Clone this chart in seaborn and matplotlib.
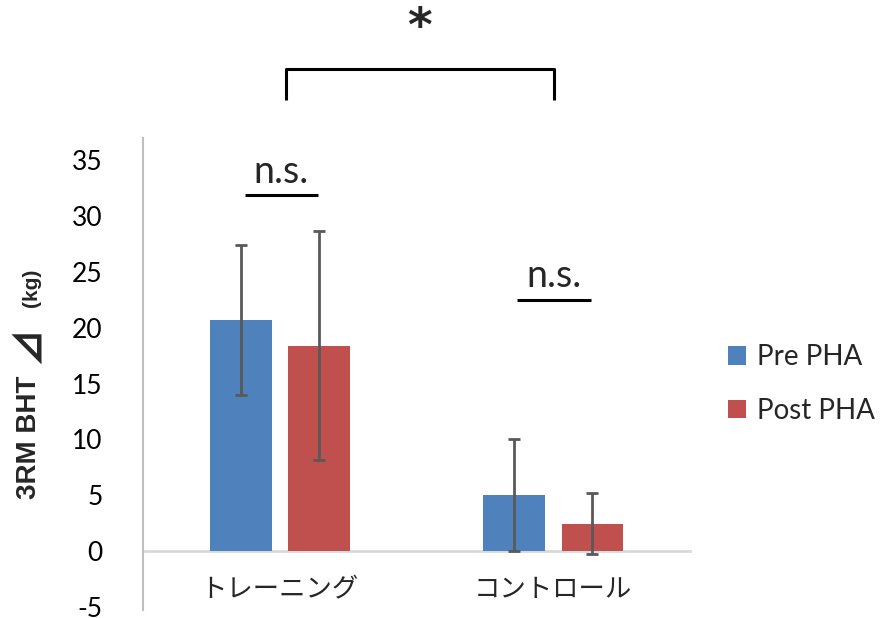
import numpy as np
import pandas as pd
import matplotlib
matplotlib.use("Agg")
import matplotlib.pyplot as plt
import seaborn as sns

# data
groups = ["トレーニング", "コントロール"]
phases = ["Pre PHA", "Post PHA"]
pre_mean = [20.7, 5.0]
post_mean = [18.4, 2.45]
pre_sd = [6.7, 5.0]
post_sd = [10.25, 2.75]
colors = ["#4F81BD", "#C0504D"]

df = pd.DataFrame({
    "group": groups * 2,
    "phase": [phases[0]] * 2 + [phases[1]] * 2,
    "delta": pre_mean + post_mean,
})
sds = [pre_sd, post_sd]

sns.set_style("white")
plt.rcParams["font.family"] = ["Lato", "Noto Sans CJK JP", "DejaVu Sans"]
plt.rcParams["axes.unicode_minus"] = False

fig = plt.figure(figsize=(8.81, 6.18), dpi=100)
ax = fig.add_axes([0.1623, 0.0129, 0.621, 0.764])

sns.barplot(data=df, x="group", y="delta", hue="phase", palette=colors,
            width=0.573, gap=0.21, ax=ax, errorbar=None, saturation=1,
            linewidth=0)

# error bars from bar geometry
for cont, sd in zip(ax.containers, sds):
    xs = [p.get_x() + p.get_width() / 2 for p in cont.patches]
    ys = [p.get_height() for p in cont.patches]
    ax.errorbar(xs, ys, yerr=sd, fmt="none", ecolor="#595959",
                elinewidth=2, capsize=4, capthick=2, zorder=3)

ax.set_xlim(-0.5, 1.5)
ax.set_ylim(-5.28, 37)
ax.set_yticks(range(-5, 36, 5))
ax.set_xlabel("")
ax.set_ylabel("")

for s in ["top", "right"]:
    ax.spines[s].set_visible(False)
ax.spines["left"].set_color("#bfbfbf")
ax.spines["left"].set_linewidth(1.5)
ax.spines["bottom"].set_position(("data", 0))
ax.spines["bottom"].set_color("#d9d9d9")
ax.spines["bottom"].set_linewidth(2)
ax.spines["bottom"].set_zorder(0.5)

ax.tick_params(axis="y", direction="out", length=20, width=1.5,
               color="#bfbfbf", pad=9, labelsize=19, labelcolor="#000000")
ax.tick_params(axis="x", length=0, pad=19, labelsize=19)

# y label: main part, triangle and small unit
lab_fam = ["Liberation Sans", "Noto Sans CJK JP", "DejaVu Sans"]
fig.text(29 / 881, 1 - 437 / 618, "3RM BHT", rotation=90, ha="center",
         va="center", fontsize=20, fontweight="bold", family=lab_fam)
fig.text(29 / 881, 1 - 345 / 618, "⊿", rotation=90, ha="center",
         va="center", fontsize=27, fontweight="black",
         family=["Noto Sans CJK JP", "DejaVu Sans"])
fig.text(31 / 881, 1 - 288 / 618, "(kg)", rotation=90, ha="center",
         va="center", fontsize=15, fontweight="bold", family=lab_fam)

# significance marks
line_kw = dict(color="black", linewidth=2.2, clip_on=False,
               solid_capstyle="butt")
ax.plot([-0.128, 0.139], [31.9, 31.9], **line_kw)
ax.text(0.005, 33.9, "n.s.", ha="center", va="center", fontsize=27)
ax.plot([0.869, 1.139], [22.5, 22.5], **line_kw)
ax.text(1.004, 24.6, "n.s.", ha="center", va="center", fontsize=27)
ax.plot([0.022, 0.022, 1.004, 1.004], [40.4, 43.2, 43.2, 40.4], **line_kw)
ax.text(0.511, 46.8, "*", ha="center", va="center", fontsize=34,
        fontweight="bold", family="DejaVu Sans")

leg = ax.legend(loc="center left", bbox_to_anchor=(0.826, 1 - 384 / 618),
                bbox_transform=fig.transFigure, frameon=False, fontsize=20,
                handlelength=0.65, handleheight=0.65, handletextpad=0.4,
                labelspacing=1.0, borderpad=0, borderaxespad=0)

fig.savefig("out.png", dpi=100)
